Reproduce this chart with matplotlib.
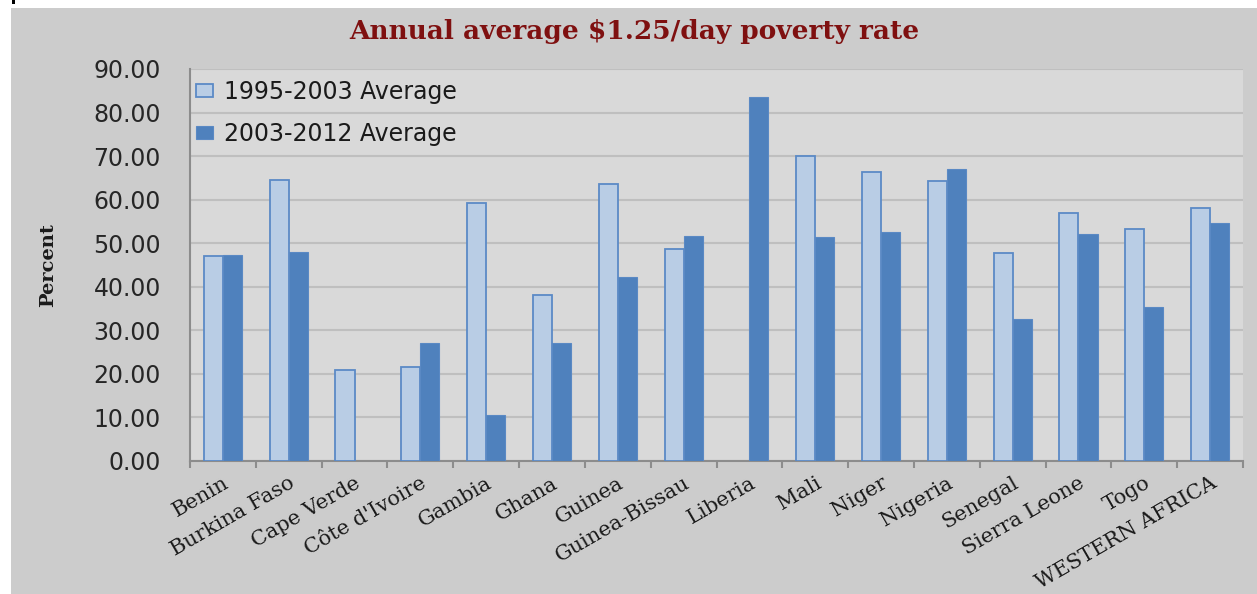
import numpy as np
import matplotlib.pyplot as plt
from matplotlib.patches import Rectangle
from matplotlib.ticker import FixedLocator, FormatStrFormatter

# Datos (porcentaje)
countries = ['Benin', 'Burkina Faso', 'Cape Verde', "Côte d'Ivoire", 'Gambia', 'Ghana',
             'Guinea', 'Guinea-Bissau', 'Liberia', 'Mali', 'Niger', 'Nigeria',
             'Senegal', 'Sierra Leone', 'Togo', 'WESTERN AFRICA']
avg_1995_2003 = [47.1, 64.5, 20.9, 21.5, 59.2, 38.0, 63.7, 48.6, np.nan, 70.1,
                 66.4, 64.3, 47.8, 56.9, 53.3, 58.1]
avg_2003_2012 = [47.2, 48.0, np.nan, 27.1, 10.6, 27.1, 42.2, 51.6, 83.6, 51.4,
                 52.5, 67.0, 32.5, 52.2, 35.4, 54.6]
series_names = ['1995-2003 Average', '2003-2012 Average']
yticks = np.arange(0, 91, 10)

W, H = 1257, 594
fig = plt.figure(figsize=(W / 100, H / 100), dpi=100, facecolor='white')

# Fondo gris del grafico (con margen blanco arriba e izquierda)
fig.patches.append(Rectangle((11 / W, 0), 1 - 11 / W, (H - 8) / H,
                             transform=fig.transFigure, facecolor='#cccccc',
                             edgecolor='none', zorder=-10))
fig.patches.append(Rectangle((12 / W, (H - 4) / H), 3 / W, 4 / H,
                             transform=fig.transFigure, facecolor='black',
                             edgecolor='none', zorder=-9))

ax = fig.add_axes([190 / W, (H - 461) / H, (1243 - 190) / W, (461 - 69) / H])
ax.set_facecolor('#d9d9d9')

x = np.arange(len(countries))
bw = 0.29
ax.bar(x - bw / 2, avg_1995_2003, bw, color='#b9cde5', edgecolor='#5b8ac6',
       linewidth=1.3, label=series_names[0], zorder=3)
ax.bar(x + bw / 2, avg_2003_2012, bw, color='#4f81bd', edgecolor='#5a89c4',
       linewidth=0.8, label=series_names[1], zorder=3)

# Ejes
ax.set_xlim(-0.5, len(countries) - 0.5)
ax.set_ylim(0, 90)
ax.set_yticks(yticks)
ax.yaxis.set_major_formatter(FormatStrFormatter('%.2f'))
ax.grid(axis='y', color='#bfbfbf', linewidth=1.5, zorder=1)
ax.set_axisbelow(True)
for s in ['top', 'right']:
    ax.spines[s].set_visible(False)
for s in ['left', 'bottom']:
    ax.spines[s].set_color('#8c8c8c')
    ax.spines[s].set_linewidth(1.5)

ax.tick_params(axis='y', length=0, pad=21, labelsize=17, labelcolor='#262626')
ax.set_xticks(x)
ax.set_xticklabels(countries, rotation=30, ha='right', rotation_mode='anchor',
                   family='DejaVu Serif', fontsize=15, color='#1a1a1a')
ax.tick_params(axis='x', which='major', length=0, pad=9)
ax.xaxis.set_minor_locator(FixedLocator(np.arange(-0.5, len(countries), 1)))
ax.tick_params(axis='x', which='minor', length=5, width=1.5, color='#8c8c8c')

ax.set_ylabel('Percent', family='DejaVu Serif', fontweight='bold', fontsize=14,
              color='#1a1a1a')
ax.yaxis.set_label_coords(-0.126, 0.5)

fig.text(0.505, 1 - 32 / H, 'Annual average $1.25/day poverty rate', ha='center',
         va='center', family='DejaVu Serif', fontweight='bold', fontsize=19,
         color='#7f1010')

ax.legend(loc='upper left', frameon=False, fontsize=17, handlelength=0.75,
          handleheight=0.5, handletextpad=0.45, labelspacing=0.75,
          borderaxespad=0.2, bbox_to_anchor=(-0.008, 1.008), labelcolor='#1a1a1a')

fig.savefig('out.png', dpi=100, facecolor=fig.get_facecolor())
